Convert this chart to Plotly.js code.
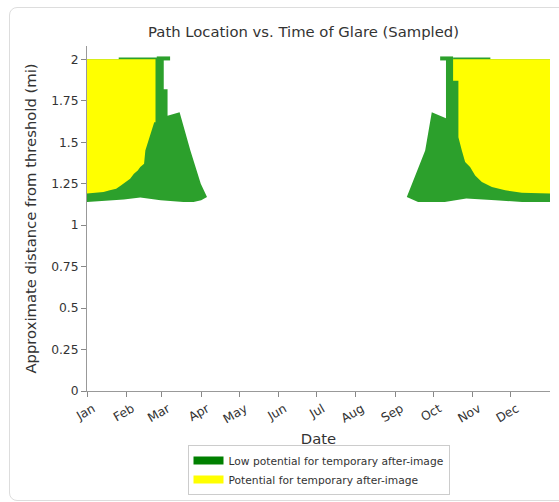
<!DOCTYPE html>
<html><head><meta charset="utf-8">
<script src="https://cdn.plot.ly/plotly-3.0.1.min.js"></script>
<style>
html,body{margin:0;padding:0;background:#fff;overflow:hidden;}
#frame{position:absolute;left:9px;top:7px;width:620px;height:494px;border:1px solid #dddddd;border-radius:8px;box-sizing:border-box;}
#chart{position:absolute;left:0;top:0;width:559px;height:502px;}
</style></head><body>
<div id="frame"></div>
<div id="chart"></div>
<script>
// ---- data (day of year offsets from 2023-01-01, distance in miles) ----
var monthTicks = ['2023-01-01','2023-02-01','2023-03-01','2023-04-01','2023-05-01','2023-06-01','2023-07-01','2023-08-01','2023-09-01','2023-10-01','2023-11-01','2023-12-01'];
var monthLabels = ['Jan','Feb','Mar','Apr','May','Jun','Jul','Aug','Sep','Oct','Nov','Dec'];
var yTickVals = [0,0.25,0.5,0.75,1,1.25,1.5,1.75,2];
var yTickText = ['0','0.25','0.5','0.75','1','1.25','1.5','1.75','2'];

// spring period - low potential (green)
var greenLowSpringDay = [0,13,29,42,50,58,76,84,90,94.6];
var greenLowSpringVal = [1.14,1.147,1.155,1.167,1.16,1.15,1.14,1.14,1.15,1.17];
var greenHighSpringDay = [0,25,25,60.5,60.5,63.5,63.5,68,73,81.5,89.7,94.6];
var greenHighSpringVal = [2.0,2.0,2.01,2.01,1.82,1.82,1.66,1.67,1.68,1.45,1.25,1.17];
var greenTabSpringDay = [55,65.5];
var greenTabSpringVal = [2.005,2.005];

// spring period - potential (yellow)
var yellowLowSpringDay = [0,10,13,18,23,27,31,34,37,40,42,45,46,48,51,53,54];
var yellowLowSpringVal = [1.19,1.195,1.2,1.21,1.22,1.24,1.26,1.28,1.31,1.33,1.35,1.37,1.45,1.5,1.56,1.62,1.62];
var yellowHighSpringDay = [0,54];
var yellowHighSpringVal = [2.0,2.0];

// autumn period - low potential (green)
var greenLowFallDay = [252.1,261,282,299,322,343,365];
var greenLowFallVal = [1.17,1.14,1.14,1.16,1.15,1.14,1.14];
var greenHighFallDay = [252.1,266.6,271.8,283,283,288.6,288.6,318,318,365];
var greenHighFallVal = [1.17,1.45,1.68,1.645,2.0,2.0,2.01,2.01,2.0,2.0];
var greenTabFallDay = [278.4,288.6];
var greenTabFallVal = [2.005,2.005];

// autumn period - potential (yellow)
var yellowLowFallDay = [288.6,288.6,292.8,292.8,295.5,298.1,302,306,311.3,319.2,329.7,342.8,365];
var yellowLowFallVal = [2.0,1.87,1.87,1.53,1.45,1.38,1.35,1.30,1.26,1.23,1.21,1.195,1.19];
var yellowHighFallDay = [365,288.6];
var yellowHighFallVal = [2.0,2.0];

var legendNames = ['Low potential for temporary after-image','Potential for temporary after-image'];

// ---- helpers ----
function toDate(d){
  var ms = Date.UTC(2023,0,1) + d*86400000;
  return new Date(ms).toISOString().replace('T',' ').slice(0,19);
}
function polygon(lowD, lowV, highD, highV){
  var x = lowD.map(toDate), y = lowV.slice();
  for (var i = highD.length-1; i >= 0; i--){ x.push(toDate(highD[i])); y.push(highV[i]); }
  return {x:x, y:y};
}
function polyTrace(p, color){
  return {type:'scatter', mode:'lines', x:p.x, y:p.y, fill:'toself', fillcolor:color,
          line:{width:0, color:color}, hoverinfo:'skip', showlegend:false};
}
function lineTrace(d, v, color, w){
  return {type:'scatter', mode:'lines', x:d.map(toDate), y:v, line:{width:w, color:color},
          hoverinfo:'skip', showlegend:false};
}

var GREEN = '#2ca02c', YELLOW = '#ffff00';
var yFall = {x: yellowLowFallDay.concat(yellowHighFallDay).map(toDate),
             y: yellowLowFallVal.concat(yellowHighFallVal)};

var traces = [
  polyTrace(polygon(greenLowSpringDay, greenLowSpringVal, greenHighSpringDay, greenHighSpringVal), GREEN),
  polyTrace(polygon(greenLowFallDay, greenLowFallVal, greenHighFallDay, greenHighFallVal), GREEN),
  lineTrace(greenTabSpringDay, greenTabSpringVal, GREEN, 4),
  lineTrace(greenTabFallDay, greenTabFallVal, GREEN, 4),
  polyTrace(polygon(yellowLowSpringDay, yellowLowSpringVal, yellowHighSpringDay, yellowHighSpringVal), YELLOW),
  polyTrace(yFall, YELLOW),
  {type:'scatter', mode:'lines', x:[null], y:[null], name:legendNames[0], line:{color:'#008000', width:8}, showlegend:true},
  {type:'scatter', mode:'lines', x:[null], y:[null], name:legendNames[1], line:{color:YELLOW, width:8}, showlegend:true}
];

var layout = {
  width:559, height:502,
  margin:{l:87, r:9, t:46, b:111, autoexpand:false},
  paper_bgcolor:'rgba(0,0,0,0)', plot_bgcolor:'rgba(0,0,0,0)',
  font:{family:'DejaVu Sans', color:'#333333', size:12.3},
  title:{text:'Path Location vs. Time of Glare (Sampled)', font:{size:14.8, color:'#333333'},
         xref:'container', x:0.543, xanchor:'center', yref:'container', y:1-32/502, yanchor:'middle'},
  xaxis:{type:'date', range:['2023-01-01','2024-01-01'], tickvals:monthTicks, ticktext:monthLabels,
         tickangle:-30, ticks:'outside', ticklen:5, tickcolor:'#888888', showline:true, linecolor:'#999999',
         showgrid:false, zeroline:false, tickfont:{size:12.3, color:'#333333'}, ticklabelshift:6,
         automargin:false,
         title:{text:'Date', font:{size:14.8, color:'#333333'}, standoff:8}},
  yaxis:{range:[0,2.08], tickvals:yTickVals, ticktext:yTickText, ticks:'outside', ticklen:5,
         tickcolor:'#888888', showline:true, linecolor:'#999999', showgrid:false, zeroline:false,
         tickfont:{size:12.3, color:'#333333'}, automargin:false,
         title:{text:'Approximate distance from threshold (mi)', font:{size:14.8, color:'#333333'}, standoff:10}},
  legend:{xref:'container', x:318.5/559, xanchor:'center', yref:'container', y:1-445/502, yanchor:'top', orientation:'v',
          bordercolor:'#cccccc', borderwidth:1, bgcolor:'#ffffff', font:{size:10.7, color:'#333333'}},
  showlegend:true
};

Plotly.newPlot('chart', traces, layout, {displayModeBar:false, staticPlot:true});
</script>
</body></html>
